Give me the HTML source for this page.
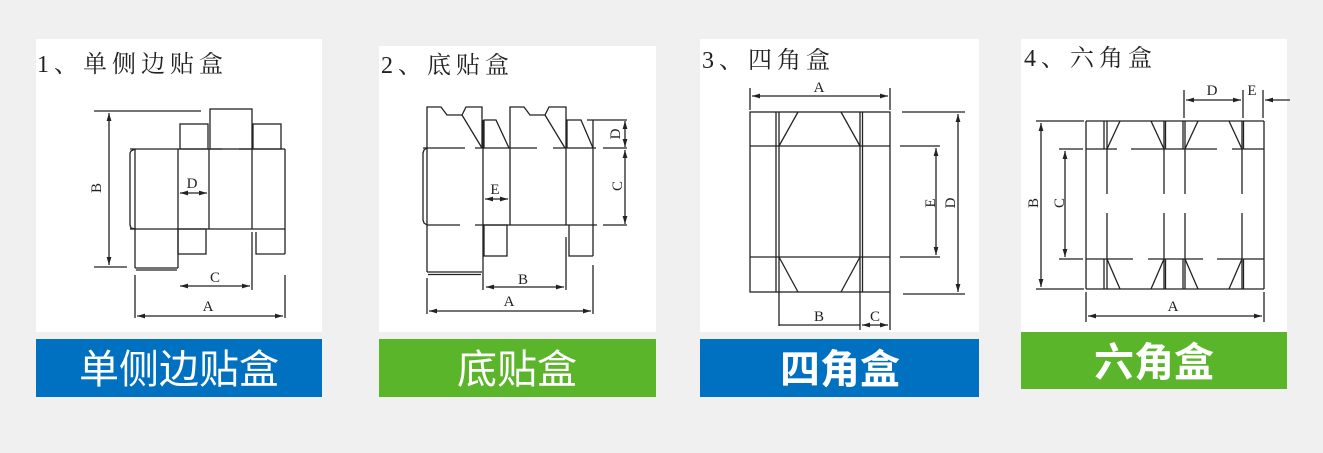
<!DOCTYPE html>
<html><head><meta charset="utf-8"><style>
html,body{margin:0;padding:0;background:#f0f0f0;}
svg{display:block;}
.t{font-family:"Liberation Serif","Noto Serif CJK SC",serif;font-size:24px;fill:#222;letter-spacing:5px;}
.l{font-family:"Liberation Serif",serif;font-size:15px;fill:#222;}
.b{font-family:"Liberation Sans","Noto Sans CJK SC",sans-serif;font-size:40px;fill:#fff;}
</style></head><body>
<svg width="1323" height="453" viewBox="0 0 1323 453" xmlns="http://www.w3.org/2000/svg">
<defs>
<marker id="a" viewBox="0 0 10 6" refX="10" refY="3" markerWidth="8" markerHeight="5" orient="auto-start-reverse" markerUnits="userSpaceOnUse"><path d="M0,0L10,3L0,6z" fill="#222"/></marker>
</defs>
<rect x="0" y="0" width="1323" height="453" fill="#f0f0f0"/>
<rect x="36" y="39" width="286" height="293" fill="#fff"/>
<rect x="379" y="46" width="277" height="286" fill="#fff"/>
<rect x="700" y="39" width="279" height="293" fill="#fff"/>
<rect x="1021" y="39" width="266" height="293" fill="#fff"/>
<rect x="36" y="339" width="286" height="58" fill="#0070c0"/>
<rect x="379" y="339" width="277" height="58" fill="#5ab52a"/>
<rect x="700" y="339" width="279" height="58" fill="#0070c0"/>
<rect x="1021" y="332" width="266" height="57" fill="#5ab52a"/>
<text class="b" x="179" y="383" text-anchor="middle">单侧边贴盒</text>
<text class="b" x="517" y="383" text-anchor="middle">底贴盒</text>
<text class="b" x="840" y="383" text-anchor="middle" font-weight="bold">四角盒</text>
<text class="b" x="1154" y="376" text-anchor="middle" font-weight="bold">六角盒</text>
<text class="t" x="37" y="72">1、单侧边贴盒</text>
<text class="t" x="381" y="73">2、底贴盒</text>
<text class="t" x="702" y="68">3、四角盒</text>
<text class="t" x="1024" y="66">4、六角盒</text>

<g stroke="#222" stroke-width="1.3" fill="none">
<line x1="94" y1="111" x2="201" y2="111"/>
<line x1="94" y1="267" x2="127" y2="267"/>
<line x1="109" y1="113" x2="109" y2="265" marker-start="url(#a)" marker-end="url(#a)"/>
<rect x="210" y="109" width="42" height="40"/>
<rect x="180" y="124" width="28" height="25"/>
<rect x="253" y="124" width="28" height="25"/>
<line x1="130" y1="149" x2="222" y2="149"/>
<line x1="239" y1="149" x2="285" y2="149"/>
<line x1="130" y1="229" x2="285" y2="229"/>
<path d="M135,149 L131,151 L130,153 L130,225 L131,228 L135,229"/>
<line x1="135" y1="149" x2="135" y2="268"/>
<line x1="178" y1="149" x2="178" y2="268"/>
<line x1="209" y1="149" x2="209" y2="229"/>
<line x1="252" y1="149" x2="252" y2="229"/>
<line x1="285" y1="149" x2="285" y2="254"/>
<line x1="135" y1="268" x2="178" y2="268"/>
<line x1="136" y1="270" x2="177" y2="270"/>
<rect x="178" y="229" width="28" height="25"/>
<path d="M256,232 L256,254 L285,254"/>
<line x1="252" y1="232" x2="252" y2="290"/>
<line x1="180" y1="286" x2="250" y2="286" marker-start="url(#a)" marker-end="url(#a)"/>
<line x1="135" y1="275" x2="135" y2="318"/>
<line x1="285" y1="275" x2="285" y2="318"/>
<line x1="137" y1="316" x2="283" y2="316" marker-start="url(#a)" marker-end="url(#a)"/>
<line x1="180" y1="193" x2="207" y2="193" marker-start="url(#a)" marker-end="url(#a)"/>

<path d="M427,272 L427,107 L441,107 L447,115 L462,115 L466,107 L482,107 L482,148"/>
<line x1="462" y1="115" x2="482" y2="148"/>
<path d="M510,225 L510,107 L524,107 L530,115 L545,115 L549,107 L566,107 L566,225"/>
<line x1="545" y1="115" x2="565" y2="148"/>
<path d="M484,148 L484,120 L496,120 L509,148"/>
<path d="M567,148 L567,120 L581,120 L593,148"/>
<line x1="423" y1="148" x2="465" y2="148"/>
<line x1="475" y1="148" x2="537" y2="148"/>
<line x1="553" y1="148" x2="596" y2="148"/>
<line x1="603" y1="148" x2="627" y2="148"/>
<path d="M427,148 L424,150 L423,153 L423,220 L424,223 L427,225"/>
<line x1="427" y1="225" x2="460" y2="225"/>
<line x1="475" y1="225" x2="597" y2="225"/>
<line x1="603" y1="225" x2="627" y2="225"/>
<line x1="483" y1="120" x2="483" y2="290"/>
<line x1="593" y1="120" x2="593" y2="256"/>
<rect x="484" y="225" width="23" height="31"/>
<path d="M569,225 L569,256 L593,256"/>
<line x1="566" y1="237" x2="566" y2="290"/>
<line x1="593" y1="265" x2="593" y2="314"/>
<line x1="427" y1="272" x2="482" y2="272"/>
<line x1="428" y1="274.5" x2="481" y2="274.5"/>
<line x1="587" y1="120" x2="627" y2="120"/>
<line x1="625" y1="121" x2="625" y2="147" marker-start="url(#a)" marker-end="url(#a)"/>
<line x1="625" y1="150" x2="625" y2="224" marker-start="url(#a)" marker-end="url(#a)"/>
<line x1="485" y1="199" x2="508" y2="199" marker-start="url(#a)" marker-end="url(#a)"/>
<line x1="486" y1="287" x2="564" y2="287" marker-start="url(#a)" marker-end="url(#a)"/>
<line x1="427" y1="278" x2="427" y2="314"/>
<line x1="429" y1="311" x2="591" y2="311" marker-start="url(#a)" marker-end="url(#a)"/>

<line x1="750" y1="88" x2="750" y2="110"/>
<line x1="890" y1="88" x2="890" y2="110"/>
<line x1="752" y1="96" x2="888" y2="96" marker-start="url(#a)" marker-end="url(#a)"/>
<rect x="750" y="112" width="140" height="180"/>
<line x1="776" y1="112" x2="776" y2="292"/>
<line x1="779" y1="112" x2="779" y2="292"/>
<line x1="860" y1="112" x2="860" y2="292"/>
<line x1="862.5" y1="112" x2="862.5" y2="292"/>
<line x1="750" y1="146" x2="890" y2="146"/>
<line x1="750" y1="257" x2="890" y2="257"/>
<line x1="779" y1="146" x2="798" y2="112"/>
<line x1="841" y1="112" x2="860" y2="146"/>
<line x1="779" y1="257" x2="798" y2="292"/>
<line x1="860" y1="257" x2="841" y2="292"/>
<line x1="902" y1="112" x2="965" y2="112"/>
<line x1="903" y1="294" x2="965" y2="294"/>
<line x1="958" y1="114" x2="958" y2="292" marker-start="url(#a)" marker-end="url(#a)"/>
<line x1="900" y1="146" x2="940" y2="146"/>
<line x1="900" y1="257" x2="940" y2="257"/>
<line x1="936" y1="148" x2="936" y2="255" marker-start="url(#a)" marker-end="url(#a)"/>
<line x1="779" y1="292" x2="779" y2="326"/>
<line x1="860" y1="292" x2="860" y2="330"/>
<line x1="890" y1="292" x2="890" y2="330"/>
<line x1="779" y1="325" x2="860" y2="325"/>
<line x1="862" y1="325" x2="888" y2="325" marker-start="url(#a)" marker-end="url(#a)"/>

<line x1="1086" y1="121" x2="1264" y2="121"/>
<line x1="1086" y1="289" x2="1264" y2="289"/>
<line x1="1086" y1="121" x2="1086" y2="289"/>
<line x1="1264" y1="121" x2="1264" y2="289"/>
<line x1="1104" y1="121" x2="1104" y2="149"/>
<line x1="1104" y1="259" x2="1104" y2="289"/>
<line x1="1165.5" y1="121" x2="1165.5" y2="149"/>
<line x1="1165.5" y1="259" x2="1165.5" y2="289"/>
<line x1="1183" y1="121" x2="1183" y2="149"/>
<line x1="1183" y1="259" x2="1183" y2="289"/>
<line x1="1243.5" y1="121" x2="1243.5" y2="149"/>
<line x1="1243.5" y1="259" x2="1243.5" y2="289"/>
<path d="M1107,121 V194 M1107,213 V289"/>
<path d="M1164,121 V194 M1164,213 V289"/>
<path d="M1185,121 V194 M1185,213 V289"/>
<path d="M1242,121 V194 M1242,213 V289"/>
<line x1="1086" y1="149" x2="1117" y2="149"/>
<line x1="1131" y1="149" x2="1217" y2="149"/>
<line x1="1232" y1="149" x2="1264" y2="149"/>
<line x1="1086" y1="259" x2="1133" y2="259"/>
<line x1="1148" y1="259" x2="1203" y2="259"/>
<line x1="1217" y1="259" x2="1264" y2="259"/>
<line x1="1107" y1="149" x2="1120" y2="121"/>
<line x1="1151" y1="121" x2="1164" y2="149"/>
<line x1="1185" y1="149" x2="1198" y2="121"/>
<line x1="1229" y1="121" x2="1242" y2="149"/>
<line x1="1107" y1="259" x2="1120" y2="289"/>
<line x1="1164" y1="259" x2="1151" y2="289"/>
<line x1="1185" y1="259" x2="1198" y2="289"/>
<line x1="1242" y1="259" x2="1229" y2="289"/>
<line x1="1036" y1="121" x2="1084" y2="121"/>
<line x1="1036" y1="289" x2="1084" y2="289"/>
<line x1="1041" y1="123" x2="1041" y2="287" marker-start="url(#a)" marker-end="url(#a)"/>
<line x1="1059" y1="149" x2="1083" y2="149"/>
<line x1="1059" y1="259" x2="1083" y2="259"/>
<line x1="1065" y1="151" x2="1065" y2="257" marker-start="url(#a)" marker-end="url(#a)"/>
<line x1="1184" y1="90" x2="1184" y2="118"/>
<line x1="1243" y1="90" x2="1243" y2="118"/>
<line x1="1263" y1="90" x2="1263" y2="118"/>
<line x1="1186" y1="100" x2="1241" y2="100" marker-start="url(#a)" marker-end="url(#a)"/>
<line x1="1290" y1="100" x2="1265" y2="100" marker-end="url(#a)"/>
<line x1="1086" y1="292" x2="1086" y2="322"/>
<line x1="1264" y1="292" x2="1264" y2="322"/>
<line x1="1088" y1="316" x2="1262" y2="316" marker-start="url(#a)" marker-end="url(#a)"/>
</g>

<text class="l" x="96" y="188" text-anchor="middle" transform="rotate(-90 96 188)" dy="5">B</text>
<text class="l" x="192" y="188" text-anchor="middle">D</text>
<text class="l" x="215" y="282" text-anchor="middle">C</text>
<text class="l" x="208" y="311" text-anchor="middle">A</text>

<text class="l" x="615" y="134" text-anchor="middle" transform="rotate(-90 615 134)" dy="5">D</text>
<text class="l" x="617" y="186" text-anchor="middle" transform="rotate(-90 617 186)" dy="5">C</text>
<text class="l" x="495" y="194" text-anchor="middle">E</text>
<text class="l" x="523" y="284" text-anchor="middle">B</text>
<text class="l" x="509" y="306" text-anchor="middle">A</text>

<text class="l" x="819" y="92" text-anchor="middle">A</text>
<text class="l" x="950" y="203" text-anchor="middle" transform="rotate(-90 950 203)" dy="5">D</text>
<text class="l" x="930" y="203" text-anchor="middle" transform="rotate(-90 930 203)" dy="5">E</text>
<text class="l" x="819" y="321" text-anchor="middle">B</text>
<text class="l" x="875" y="321" text-anchor="middle">C</text>

<text class="l" x="1212" y="95" text-anchor="middle">D</text>
<text class="l" x="1252" y="95" text-anchor="middle">E</text>
<text class="l" x="1033" y="203" text-anchor="middle" transform="rotate(-90 1033 203)" dy="5">B</text>
<text class="l" x="1059" y="203" text-anchor="middle" transform="rotate(-90 1059 203)" dy="5">C</text>
<text class="l" x="1173" y="311" text-anchor="middle">A</text>
</svg>
</body></html>
